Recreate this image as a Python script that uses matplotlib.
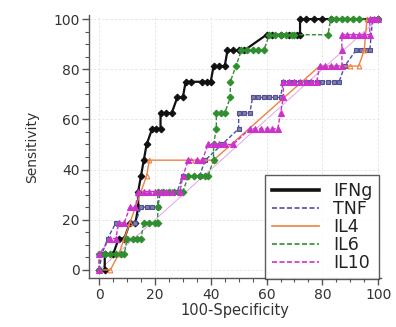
import matplotlib
matplotlib.use("Agg")
import matplotlib.pyplot as plt
from matplotlib.ticker import MultipleLocator
from matplotlib.lines import Line2D

# 100-Specificity (x) and Sensitivity (y) for each marker
ifng_x = [0, 2, 2, 5, 7, 9, 11, 13, 14, 14, 15, 16, 17, 19, 20.5, 22, 22, 24, 26, 28, 30, 31, 33, 37, 38.5, 40,
          41, 43, 45, 46, 48, 50, 52, 60, 62, 65, 68, 71, 72, 72, 74, 77, 80, 83, 100]
ifng_y = [0, 0, 6.25, 6.25, 12.5, 12.5, 18.75, 18.75, 25, 31.25, 37.5, 43.75, 50, 56.25, 56.25, 56.25, 62.5, 62.5, 62.5,
          68.75, 68.75, 75, 75, 75, 75, 75, 81.25, 81.25, 81.25, 87.5, 87.5, 87.5, 87.5, 93.75, 93.75, 93.75,
          93.75, 93.75, 93.75, 100, 100, 100, 100, 100, 100]

tnf_x = [0, 1, 3, 6, 13, 15, 17, 19, 21, 22, 28, 30, 36, 38, 44, 50, 50, 52, 54, 55, 57, 59, 61, 63, 65,
         66, 68, 70, 72, 74, 76, 78, 80, 82, 84, 86, 88, 92, 94, 96, 97, 98, 100]
tnf_y = [0, 6.25, 12.5, 18.75, 18.75, 25, 25, 25, 25, 31.25, 31.25, 37.5, 37.5, 43.75, 50, 56.25, 62.5, 62.5, 62.5,
         68.75, 68.75, 68.75, 68.75, 68.75, 68.75, 75, 75, 75, 75, 75, 75, 75, 75, 75, 75, 75, 81.25, 87.5, 87.5,
         87.5, 87.5, 100, 100]

il4_x = [0, 4, 7, 9, 11, 13, 15, 17, 18, 33, 41, 79, 90, 93, 95, 96, 100]
il4_y = [0, 0, 6.25, 12.5, 18.75, 25, 31.25, 37.5, 43.75, 43.75, 43.75, 81.25, 81.25, 81.25, 87.5, 100, 100]

il6_x = [0, 0, 2, 4, 6, 8, 9, 10, 12, 13.5, 15, 16, 18, 20, 21, 21, 21, 23, 25, 27, 29, 30, 32, 34, 36, 38, 39,
         41, 41, 42, 42, 43.5, 45, 47, 47, 49, 51, 53, 55, 57, 59, 61, 63, 65, 67, 69, 70, 82, 83, 85, 87, 89,
         91, 93, 100]
il6_y = [0, 6.25, 6.25, 6.25, 6.25, 6.25, 6.25, 12.5, 12.5, 12.5, 12.5, 18.75, 18.75, 18.75, 18.75, 25, 31.25,
         31.25, 31.25, 31.25, 31.25, 31.25, 37.5, 37.5, 37.5, 37.5, 37.5, 43.75, 50, 56.25, 62.5, 62.5, 62.5,
         68.75, 75, 81.25, 87.5, 87.5, 87.5, 87.5, 87.5, 93.75, 93.75, 93.75, 93.75, 93.75, 93.75, 93.75, 100,
         100, 100, 100, 100, 100, 100]

il10_x = [0, 0, 4, 6, 7, 9, 11, 13, 14, 16, 18, 20, 22, 24, 26, 29, 30, 32, 35, 37, 39, 41, 43, 45, 48, 54, 56,
          58, 60, 62, 64, 65, 66, 66, 68, 70, 72, 74, 76, 78, 79, 81, 83, 85, 87, 87, 87, 89, 91, 93, 95, 97,
          97, 98.5, 100]
il10_y = [0, 6.25, 12.5, 12.5, 18.75, 18.75, 25, 25, 31.25, 31.25, 31.25, 31.25, 31.25, 31.25, 31.25, 31.25,
          37.5, 43.75, 43.75, 43.75, 50, 50, 50, 50, 50, 56.25, 56.25, 56.25, 56.25, 56.25, 56.25, 62.5, 68.75,
          75, 75, 75, 75, 75, 75, 75, 81.25, 81.25, 81.25, 81.25, 81.25, 87.5, 93.75, 93.75, 93.75, 93.75,
          93.75, 93.75, 100, 100, 100]

series = [
    ("IFNg", ifng_x, ifng_y, "#111111", "-", 1.6, "D", 3.4, "#111111"),
    ("TNF", tnf_x, tnf_y, "#4b4fa8", (0, (3, 1.5)), 1.0, "s", 3.2, "#8a7f8e"),
    ("IL4", il4_x, il4_y, "#f08040", "-", 1.0, "^", 3.4, "none"),
    ("IL6", il6_x, il6_y, "#2f8f2f", (0, (3, 1.5)), 1.0, "D", 3.4, "#2f8f2f"),
    ("IL10", il10_x, il10_y, "#cc33cc", (0, (3, 1.5)), 1.0, "^", 3.8, "#cc33cc"),
]

ticks = [0, 20, 40, 60, 80, 100]

plt.rcParams["font.family"] = ["DejaVu Sans"]
fig = plt.figure(figsize=(3.96, 3.27), dpi=100)
ax = fig.add_axes([0.225, 0.15, 0.737, 0.804])

ax.plot([0, 100], [0, 100], color="#e3a3e3", lw=0.7, zorder=1)

handles = []
for name, xs, ys, col, ls, lw, mk, ms, mfc in series:
    ax.plot(xs, ys, color=col, ls=ls, lw=lw, marker=mk, ms=ms,
            mfc=mfc, mec=col, mew=0.8, zorder=3)
    handles.append(Line2D([], [], color=col, ls=ls, lw=lw + (1.0 if name == "IFNg" else 0.2), label=name))

ax.set_xlim(-3.6, 101)
ax.set_ylim(-3.2, 101.6)
ax.set_xticks(ticks)
ax.set_yticks(ticks)
ax.xaxis.set_minor_locator(MultipleLocator(5))
ax.yaxis.set_minor_locator(MultipleLocator(5))
ax.grid(True, which="major", color="#e4e4e4", ls=(0, (3, 2)), lw=0.6, zorder=0)
for s in ["top", "right"]:
    ax.spines[s].set_visible(False)
for s in ["left", "bottom"]:
    ax.spines[s].set_color("#555555")
    ax.spines[s].set_linewidth(1.0)
ax.tick_params(which="major", direction="out", length=5, width=1.0, color="#555555",
               labelsize=10, labelcolor="#333333", pad=2)
ax.tick_params(which="minor", direction="out", length=3, width=0.8, color="#555555")

ax.set_xlabel("100-Specificity", fontsize=10.5, color="#333333", labelpad=1)
ax.set_ylabel("Sensitivity", fontsize=10, color="#333333", labelpad=10)

leg = ax.legend(handles=handles, loc="lower right", bbox_to_anchor=(0.995, -0.005),
                fontsize=12.5, frameon=True, fancybox=False, edgecolor="#333333",
                handlelength=2.7, labelspacing=0.0, borderpad=0.4, handletextpad=0.8,
                borderaxespad=0.0)
leg.get_frame().set_linewidth(1.0)
for t in leg.get_texts():
    t.set_color("#222222")

fig.savefig("out.png", dpi=100)
